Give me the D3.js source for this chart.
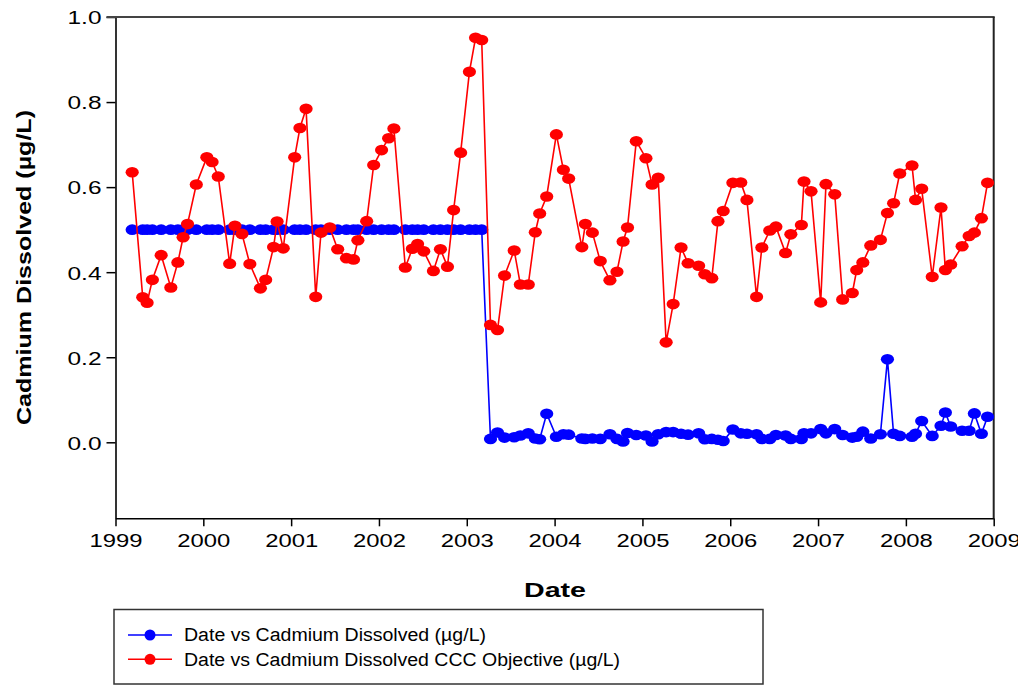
<!DOCTYPE html>
<html>
<head>
<meta charset="utf-8">
<script src="https://cdn.jsdelivr.net/npm/d3@7"></script>
<style>
  html, body { margin: 0; padding: 0; background: #fff; }
  text { font-family: "Liberation Sans", Arial, sans-serif; }
</style>
</head>
<body>
<svg id="chart" width="1018" height="685"></svg>
<script>
// Sampling dates (decimal years)
const dates = [
  1999.19, 1999.31, 1999.36, 1999.42, 1999.52, 1999.63, 1999.71, 1999.77, 1999.82, 1999.92,
  2000.04, 2000.10, 2000.17, 2000.30, 2000.36, 2000.44, 2000.53, 2000.65, 2000.71, 2000.80,
  2000.84, 2000.91, 2001.04, 2001.10, 2001.17, 2001.28, 2001.34, 2001.44, 2001.53, 2001.63,
  2001.71, 2001.76, 2001.86, 2001.94, 2002.03, 2002.11, 2002.17, 2002.30, 2002.38, 2002.44,
  2002.51, 2002.62, 2002.70, 2002.78, 2002.85, 2002.93, 2003.03, 2003.10, 2003.17,
  2003.27, 2003.35, 2003.43, 2003.54, 2003.61, 2003.70, 2003.78, 2003.83, 2003.91, 2004.02,
  2004.10, 2004.16, 2004.31, 2004.35, 2004.43, 2004.52, 2004.63, 2004.71, 2004.78, 2004.83,
  2004.93, 2005.04, 2005.11, 2005.18, 2005.27, 2005.35, 2005.44, 2005.52, 2005.64, 2005.71,
  2005.79, 2005.86, 2005.92, 2006.03, 2006.12, 2006.19, 2006.30, 2006.36, 2006.45, 2006.52,
  2006.63, 2006.69, 2006.81, 2006.84, 2006.92, 2007.03, 2007.09, 2007.19, 2007.28, 2007.39,
  2007.44, 2007.51, 2007.60, 2007.71, 2007.79, 2007.86, 2007.93, 2008.07, 2008.11, 2008.18,
  2008.30, 2008.40, 2008.45, 2008.51, 2008.64, 2008.72, 2008.78, 2008.86, 2008.93
];

// Cadmium Dissolved (µg/L)
const cadmium = [
  0.5, 0.5, 0.5, 0.5, 0.5, 0.5, 0.5, 0.5, 0.5, 0.5,
  0.5, 0.5, 0.5, 0.5, 0.5, 0.5, 0.5, 0.5, 0.5, 0.5,
  0.5, 0.5, 0.5, 0.5, 0.5, 0.5, 0.5, 0.5, 0.5, 0.5,
  0.5, 0.5, 0.5, 0.5, 0.5, 0.5, 0.5, 0.5, 0.5, 0.5,
  0.5, 0.5, 0.5, 0.5, 0.5, 0.5, 0.5, 0.5, 0.5,
  0.008, 0.023, 0.011, 0.012, 0.016, 0.021, 0.009, 0.007, 0.067, 0.013,
  0.019, 0.018, 0.009, 0.008, 0.009, 0.008, 0.019, 0.008, 0.002, 0.022,
  0.017, 0.016, 0.002, 0.019, 0.024, 0.024, 0.020, 0.018, 0.021, 0.007,
  0.008, 0.006, 0.003, 0.030, 0.021, 0.020, 0.019, 0.008, 0.008, 0.017,
  0.016, 0.008, 0.008, 0.021, 0.021, 0.031, 0.021, 0.031, 0.017, 0.011,
  0.013, 0.025, 0.009, 0.019, 0.195, 0.020, 0.015, 0.013, 0.020, 0.050,
  0.015, 0.039, 0.070, 0.037, 0.027, 0.027, 0.068, 0.020, 0.060
];

// Cadmium Dissolved CCC Objective (µg/L)
const cccObjective = [
  0.635, 0.341, 0.328, 0.382, 0.440, 0.364, 0.423, 0.482, 0.513, 0.606,
  0.670, 0.659, 0.625, 0.420, 0.509, 0.490, 0.419, 0.362, 0.382, 0.459,
  0.519, 0.456, 0.670, 0.739, 0.784, 0.342, 0.493, 0.505, 0.454, 0.433,
  0.430, 0.475, 0.520, 0.652, 0.687, 0.715, 0.738, 0.411, 0.455, 0.466,
  0.449, 0.403, 0.454, 0.413, 0.546, 0.681, 0.871, 0.951, 0.946,
  0.276, 0.264, 0.392, 0.451, 0.371, 0.371, 0.494, 0.538, 0.578, 0.724,
  0.641, 0.620, 0.459, 0.513, 0.493, 0.426, 0.381, 0.401, 0.472, 0.505,
  0.708, 0.668, 0.606, 0.622, 0.235, 0.325, 0.458, 0.421, 0.415, 0.395,
  0.386, 0.520, 0.544, 0.610, 0.611, 0.570, 0.342, 0.458, 0.498, 0.507,
  0.445, 0.489, 0.511, 0.613, 0.590, 0.329, 0.607, 0.583, 0.336, 0.351,
  0.405, 0.423, 0.463, 0.476, 0.539, 0.562, 0.632, 0.651, 0.570, 0.596,
  0.389, 0.552, 0.405, 0.418, 0.461, 0.485, 0.493, 0.527, 0.610
];

const xTicks = [1999, 2000, 2001, 2002, 2003, 2004, 2005, 2006, 2007, 2008, 2009];
const yTicks = [0.0, 0.2, 0.4, 0.6, 0.8, 1.0];

const seriesNames = [
  "Date vs Cadmium Dissolved (µg/L)",
  "Date vs Cadmium Dissolved CCC Objective (µg/L)"
];
const seriesColors = ["#0000ff", "#ff0000"];

const svg = d3.select("#chart");
const mLeft = 115.5, mRight = 993.7, mTop = 17, mBottom = 518.3;

const x = d3.scaleLinear().domain([1999, 2009]).range([mLeft, mRight]);
const y = d3.scaleLinear().domain([-0.1787, 1.0]).range([mBottom, mTop]);

// Axes
const xAxis = d3.axisBottom(x).tickValues(xTicks).tickFormat(d3.format("d")).tickSize(8).tickSizeOuter(0).tickPadding(5);
const yAxis = d3.axisLeft(y).tickValues(yTicks).tickFormat(d3.format(".1f")).tickSize(9).tickSizeOuter(0).tickPadding(5);

const gx = svg.append("g").attr("transform", `translate(0,${mBottom})`).call(xAxis);
const gy = svg.append("g").attr("transform", `translate(${mLeft},0)`).call(yAxis);

[gx, gy].forEach(g => {
  g.select(".domain").attr("stroke", "#000").attr("stroke-width", 1.6);
  g.selectAll(".tick line").attr("stroke", "#000").attr("stroke-width", 1.5);
  g.selectAll(".tick text").attr("fill", "#000").attr("font-size", 19)
    .attr("font-family", "'Liberation Sans', Arial, sans-serif")
    .attr("lengthAdjust", "spacingAndGlyphs");
});
gx.selectAll(".tick text").attr("textLength", 53).attr("dy", "0.85em");
gy.selectAll(".tick text").attr("textLength", 34).attr("dy", "0.36em");

// top and right frame
svg.append("line").attr("x1", mLeft - 9).attr("x2", mRight + 1).attr("y1", mTop).attr("y2", mTop)
  .attr("stroke", "#444").attr("stroke-width", 2.2);
svg.append("line").attr("x1", mRight).attr("x2", mRight).attr("y1", mTop).attr("y2", mBottom)
  .attr("stroke", "#222").attr("stroke-width", 2);

// series
const line = d3.line().x(d => x(d[0])).y(d => y(d[1]));
const datasets = [
  dates.map((d, i) => [d, cadmium[i]]),
  dates.map((d, i) => [d, cccObjective[i]])
];

datasets.forEach((data, k) => {
  const g = svg.append("g");
  g.append("path").datum(data).attr("d", line)
    .attr("fill", "none").attr("stroke", seriesColors[k]).attr("stroke-width", 1.6);
  g.selectAll("ellipse").data(data).join("ellipse")
    .attr("cx", d => x(d[0])).attr("cy", d => y(d[1]))
    .attr("rx", 6.6).attr("ry", 5.3)
    .attr("fill", seriesColors[k]);
});

// axis titles
svg.append("text")
  .attr("transform", `translate(31,${(110 + 425) / 2}) rotate(-90)`)
  .attr("text-anchor", "middle")
  .attr("font-size", 20).attr("font-weight", "bold")
  .attr("textLength", 315).attr("lengthAdjust", "spacingAndGlyphs")
  .text("Cadmium Dissolved (µg/L)");

svg.append("text")
  .attr("x", 555).attr("y", 597)
  .attr("text-anchor", "middle")
  .attr("font-size", 20).attr("font-weight", "bold")
  .attr("textLength", 62).attr("lengthAdjust", "spacingAndGlyphs")
  .text("Date");

// legend
const leg = svg.append("g");
leg.append("rect").attr("x", 114).attr("y", 609.5).attr("width", 649).attr("height", 74.5)
  .attr("fill", "none").attr("stroke", "#333").attr("stroke-width", 1.5);
const legY = [635, 659.3];
const legLen = [302, 436];
seriesNames.forEach((name, k) => {
  leg.append("line").attr("x1", 128).attr("x2", 172).attr("y1", legY[k]).attr("y2", legY[k])
    .attr("stroke", seriesColors[k]).attr("stroke-width", 1.6);
  leg.append("circle").attr("cx", 150).attr("cy", legY[k]).attr("r", 5.5).attr("fill", seriesColors[k]);
  leg.append("text").attr("x", 184).attr("y", legY[k] + 6.3)
    .attr("font-size", 18)
    .attr("textLength", legLen[k]).attr("lengthAdjust", "spacingAndGlyphs")
    .text(name);
});
</script>
</body>
</html>
